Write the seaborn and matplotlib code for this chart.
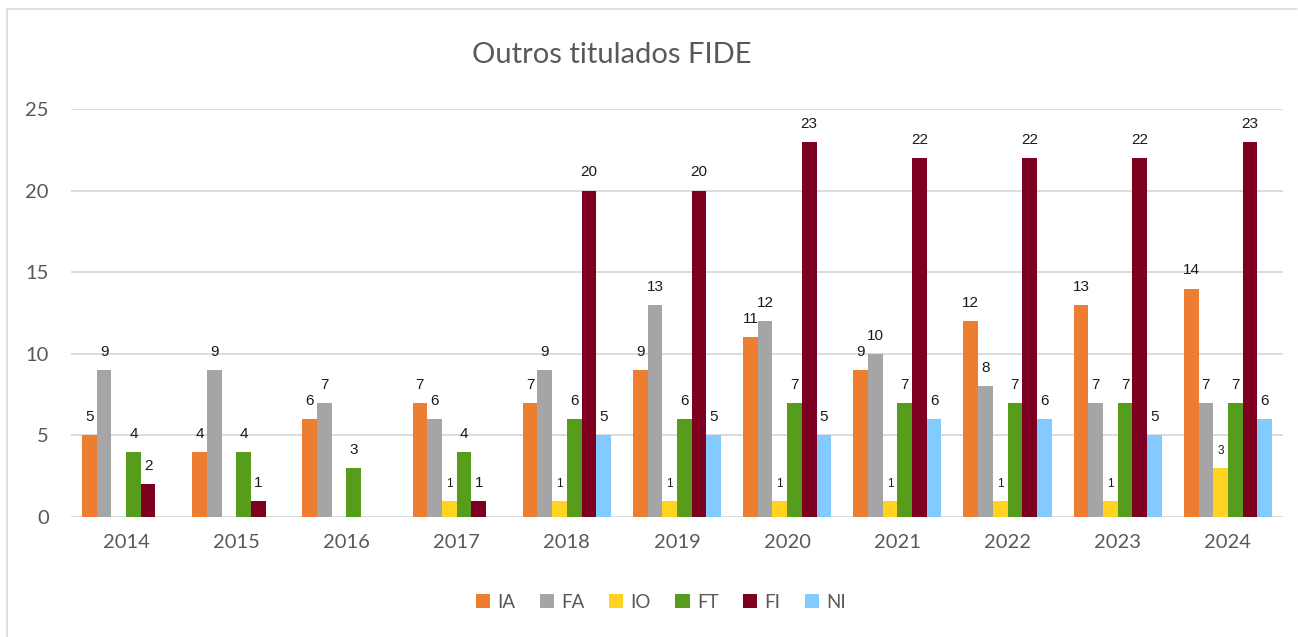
import pandas as pd
import seaborn as sns
import matplotlib.pyplot as plt
from matplotlib.lines import Line2D

years = ['2014', '2015', '2016', '2017', '2018', '2019', '2020', '2021', '2022', '2023', '2024']
ia = [5, 4, 6, 7, 7, 9, 11, 9, 12, 13, 14]
fa = [9, 9, 7, 6, 9, 13, 12, 10, 8, 7, 7]
io = [0, 0, 0, 1, 1, 1, 1, 1, 1, 1, 3]
ft = [4, 4, 3, 4, 6, 6, 7, 7, 7, 7, 7]
fi = [2, 1, 0, 1, 20, 20, 23, 22, 22, 22, 23]
ni = [0, 0, 0, 0, 5, 5, 5, 6, 6, 5, 6]

series = ['IA', 'FA', 'IO', 'FT', 'FI', 'NI']
colors = ['#ED7D31', '#A5A5A5', '#FFD320', '#579D1C', '#7E0021', '#83CAFF']

rows = []
for name, vals in zip(series, [ia, fa, io, ft, fi, ni]):
    for y, v in zip(years, vals):
        rows.append({'ano': y, 'titulo': name, 'n': v})
df = pd.DataFrame(rows)

sns.set_style('white')
plt.rcParams['font.family'] = ['Lato', 'DejaVu Sans']

fig = plt.figure(figsize=(12.98, 6.37), dpi=100)
ax = fig.add_axes([71 / 1298, 1 - 517 / 637, 1212 / 1298, 408 / 637])

sns.barplot(data=df, x='ano', y='n', hue='titulo', hue_order=series,
            palette=colors, width=0.8, linewidth=0, saturation=1,
            errorbar=None, ax=ax)

# etiquetas de datos (sin ceros)
for name, cont in zip(series, ax.containers):
    vals = df[df['titulo'] == name]['n'].tolist()
    labels = [str(v) if v > 0 else '' for v in vals]
    size = 8.5 if name == 'IO' else 11
    ax.bar_label(cont, labels=labels, padding=8, fontsize=size,
                 color='#1a1a1a', family='Liberation Sans')

ax.set_ylim(0, 25)
ax.set_yticks([0, 5, 10, 15, 20, 25])
ax.yaxis.grid(True, color='#d9d9d9', linewidth=1.3)
ax.set_axisbelow(True)
for s in ax.spines.values():
    s.set_visible(False)
ax.tick_params(axis='both', length=0, labelsize=14.5, colors='#595959')
ax.tick_params(axis='x', pad=12)
ax.tick_params(axis='y', pad=16)
ax.set_xlabel('')
ax.set_ylabel('')

fig.text(612 / 1298, 1 - 55 / 637, 'Outros titulados FIDE', ha='center', va='center',
         fontsize=21, color='#595959')

ax.legend(loc='center', bbox_to_anchor=((661 - 71) / 1212, (517 - 602) / 408), ncol=6,
          frameon=False, fontsize=13.5, handlelength=0.75, handleheight=0.75,
          handletextpad=0.4, columnspacing=1.3, labelcolor='#595959')

# borde del gráfico (solo arriba e izquierda visibles)
fig.add_artist(Line2D([7 / 1298, 7 / 1298], [0, 1 - 9 / 637],
                      transform=fig.transFigure, color='#d9d9d9', linewidth=1.2))
fig.add_artist(Line2D([7 / 1298, 1297 / 1298], [1 - 9 / 637, 1 - 9 / 637],
                      transform=fig.transFigure, color='#d9d9d9', linewidth=1.2))

fig.savefig('out.png', dpi=100)
